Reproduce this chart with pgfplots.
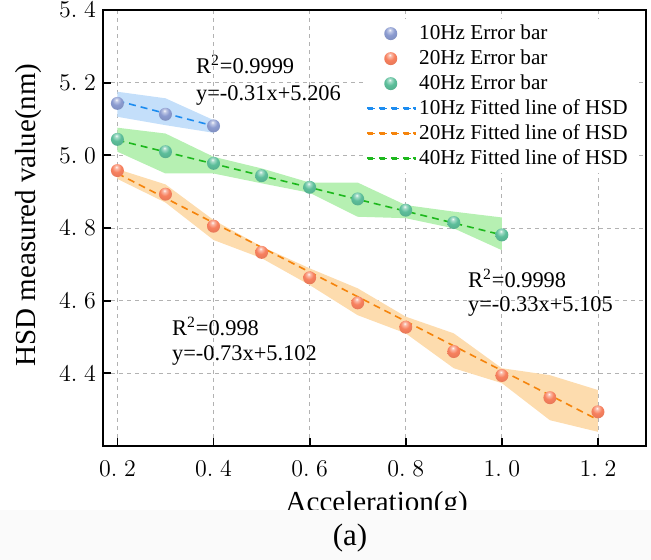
\documentclass[border=0pt]{standalone}
\usepackage{pgfplots}
\pgfplotsset{compat=1.18}
\usepackage{fontspec}
\setmainfont{Liberation Serif}
\definecolor{ballblue}{HTML}{8B9BD0}
\definecolor{ballorange}{HTML}{F7805E}
\definecolor{ballgreen}{HTML}{5CBE9A}
\definecolor{ballbluehi}{HTML}{C5CDE8}
\definecolor{ballorangehi}{HTML}{FBC0AF}
\definecolor{ballgreenhi}{HTML}{ADDFCD}
\definecolor{ballbluelo}{HTML}{7A89B7}
\definecolor{ballorangelo}{HTML}{DE7355}
\definecolor{ballgreenlo}{HTML}{51A787}
\definecolor{bandblue}{HTML}{C4DFFA}
\definecolor{bandorange}{HTML}{FDDCAE}
\definecolor{bandgreen}{HTML}{B6F0B2}
\definecolor{fitblue}{HTML}{1C8CF0}
\definecolor{fitorange}{HTML}{F5840C}
\definecolor{fitgreen}{HTML}{1DB81D}
\pgfdeclareradialshading{shA}{\pgfpoint{-4bp}{14bp}}{color(0bp)=(white); color(5bp)=(ballbluehi); color(18bp)=(ballblue); color(42bp)=(ballbluelo); color(100bp)=(ballbluelo)}
\pgfdeclareradialshading{shB}{\pgfpoint{-4bp}{14bp}}{color(0bp)=(white); color(5bp)=(ballorangehi); color(18bp)=(ballorange); color(42bp)=(ballorangelo); color(100bp)=(ballorangelo)}
\pgfdeclareradialshading{shC}{\pgfpoint{-4bp}{14bp}}{color(0bp)=(white); color(5bp)=(ballgreenhi); color(18bp)=(ballgreen); color(42bp)=(ballgreenlo); color(100bp)=(ballgreenlo)}
\pgfdeclareplotmark{ballA}{\pgfscope\pgfpathcircle{\pgfpointorigin}{\pgfplotmarksize}\pgfshadepath{shA}{0}\pgfusepath{discard}\endpgfscope}
\pgfdeclareplotmark{ballB}{\pgfscope\pgfpathcircle{\pgfpointorigin}{\pgfplotmarksize}\pgfshadepath{shB}{0}\pgfusepath{discard}\endpgfscope}
\pgfdeclareplotmark{ballC}{\pgfscope\pgfpathcircle{\pgfpointorigin}{\pgfplotmarksize}\pgfshadepath{shC}{0}\pgfusepath{discard}\endpgfscope}
\pgfplotsset{
  lineleg/.style={legend image code/.code={%
    \fill[#1] (0pt,-0.4pt) rectangle (3.5pt,0.4pt);
    \fill[#1] (6pt,-0.4pt) rectangle (9.5pt,0.4pt);
    \fill[#1] (12pt,-0.4pt) rectangle (15.5pt,0.4pt);
    \fill[#1] (18pt,-0.4pt) rectangle (21.5pt,0.4pt);
    \fill[#1] (23pt,-0.4pt) rectangle (23.8pt,0.4pt);}},
  markleg/.style={legend image code/.code={\draw[##1] plot coordinates {(11.5pt,0pt)};}},
  fitline/.style={line width=0.8pt, dash pattern=on 3.5pt off 2.5pt},
}
\begin{document}
\begin{tikzpicture}
\useasboundingbox (-51.5pt,-57pt) rectangle (274pt,223pt);
\begin{axis}[
  at={(0pt,0pt)}, anchor=south west,
  scale only axis, width=271.5pt, height=218pt,
  xmin=0.17, xmax=1.3, ymin=4.2, ymax=5.4,
  xtick={0.2,0.4,0.6,0.8,1.0,1.2},
  xticklabels={$0.\;2$,$0.\;4$,$0.\;6$,$0.\;8$,$1.\;0$,$1.\;2$},
  ytick={4.4,4.6,4.8,5.0,5.2,5.4},
  yticklabels={$4.\;4$,$4.\;6$,$4.\;8$,$5.\;0$,$5.\;2$,$5.\;4$},
  tick label style={font=\fontsize{13}{15}\selectfont},
  xticklabel style={yshift=-4pt},
  yticklabel style={inner ysep=0pt},
  tick align=inside, tick pos=left,
  major tick length=4pt,
  major tick style={line width=0.9pt, black},
  axis line style={line width=1pt},
  grid=major,
  grid style={gray!60, line width=0.4pt, dash pattern=on 2pt off 2pt},
  xlabel={Acceleration(g)},
  ylabel={HSD measured value(nm)},
  label style={font=\fontsize{14.5}{16}\selectfont},
  xlabel style={at={(axis description cs:0.504,0)}, anchor=center, yshift=-29.5pt},
  ylabel style={at={(axis description cs:-0.138,0.53)}, anchor=center},
  legend cell align=left,
  legend style={draw=none, fill=white, at={(0.478,0.98)}, anchor=north west,
    font=\fontsize{10.6}{12}\selectfont, row sep=0pt, column sep=0pt,
    inner xsep=2pt, inner ysep=1pt,
    nodes={inner ysep=1pt, inner xsep=1.5pt, text height=8pt, text depth=2.5pt}},
]
% bands
\addplot[fill=bandblue, draw=none, forget plot] coordinates {
  (0.2,5.175) (0.3,5.157) (0.4,5.097) (0.4,5.062) (0.3,5.083) (0.2,5.106)};
\addplot[fill=bandorange, draw=none, forget plot] coordinates {
  (0.2,4.962) (0.3,4.920) (0.4,4.822) (0.5,4.749) (0.6,4.689) (0.7,4.634)
  (0.8,4.556) (0.9,4.510) (1.0,4.414) (1.1,4.395) (1.2,4.354)
  (1.2,4.239) (1.1,4.271) (1.0,4.373) (0.9,4.414) (0.8,4.510) (0.7,4.560)
  (0.6,4.643) (0.5,4.717) (0.4,4.767) (0.3,4.870) (0.2,4.935)};
\addplot[fill=bandgreen, draw=none, forget plot] coordinates {
  (0.2,5.076) (0.3,5.060) (0.4,4.996) (0.5,4.964) (0.6,4.925) (0.7,4.925)
  (0.8,4.863) (0.9,4.845) (1.0,4.829)
  (1.0,4.739) (0.9,4.799) (0.8,4.827) (0.7,4.831) (0.6,4.897) (0.5,4.923)
  (0.4,4.950) (0.3,4.950) (0.2,5.010)};
% points
\addplot[only marks, mark=ballA, mark size=3.25pt, markleg] coordinates {
  (0.2,5.143) (0.3,5.113) (0.4,5.081)};
\addlegendentry{10Hz Error bar}
\addplot[only marks, mark=ballB, mark size=3.25pt, markleg] coordinates {
  (0.2,4.958) (0.3,4.893) (0.4,4.805) (0.5,4.733) (0.6,4.663) (0.7,4.594)
  (0.8,4.527) (0.9,4.460) (1.0,4.394) (1.1,4.333) (1.2,4.294)};
\addlegendentry{20Hz Error bar}
\addplot[only marks, mark=ballC, mark size=3.25pt, markleg] coordinates {
  (0.2,5.044) (0.3,5.010) (0.4,4.978) (0.5,4.944) (0.6,4.912) (0.7,4.880)
  (0.8,4.849) (0.9,4.815) (1.0,4.781)};
\addlegendentry{40Hz Error bar}
% fitted lines
\addplot[draw=fitblue, fitline, lineleg=fitblue] coordinates {(0.2,5.150) (0.4,5.081)};
\addlegendentry{10Hz Fitted line of HSD}
\addplot[draw=fitorange, fitline, lineleg=fitorange] coordinates {(0.2,4.950) (1.2,4.272)};
\addlegendentry{20Hz Fitted line of HSD}
\addplot[draw=fitgreen, fitline, lineleg=fitgreen] coordinates {(0.2,5.042) (1.0,4.781)};
\addlegendentry{40Hz Fitted line of HSD}
% annotations
\begin{scope}[every node/.style={anchor=west, inner sep=0pt, font=\fontsize{11.2}{13}\selectfont}]
\node at (axis cs:0.363,5.249) {R\textsuperscript{2}=0.9999};
\node at (axis cs:0.363,5.166) {y=-0.31x+5.206};
\node at (axis cs:0.313,4.528) {R\textsuperscript{2}=0.998};
\node at (axis cs:0.313,4.450) {y=-0.73x+5.102};
\node at (axis cs:0.929,4.660) {R\textsuperscript{2}=0.9998};
\node at (axis cs:0.929,4.583) {y=-0.33x+5.105};
\end{scope}
\end{axis}
\fill[black!2] (-51.5pt,-57pt) rectangle (274pt,-32pt);
\node[font=\fontsize{15.5}{17}\selectfont] at (123.5pt,-46pt) {(a)};
\end{tikzpicture}
\end{document}
